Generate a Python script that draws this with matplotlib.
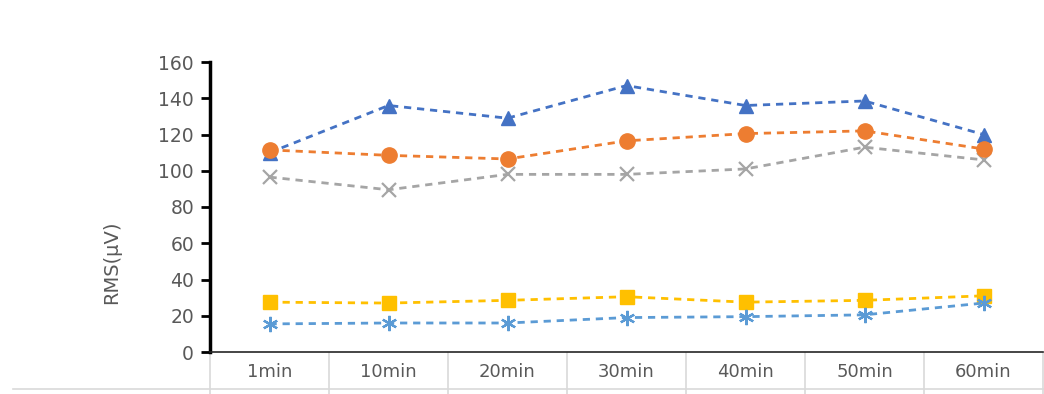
import numpy as np
import matplotlib
matplotlib.use('Agg')
import matplotlib.pyplot as plt
from matplotlib.lines import Line2D
import matplotlib.transforms as mtransforms

# data
categories = ['1min', '10min', '20min', '30min', '40min', '50min', '60min']
tri_vals = [110, 136, 129, 147, 136, 138.5, 120]
circ_vals = [111.5, 108.5, 106.5, 116.5, 120.5, 122, 112]
x_vals = [96.5, 89.5, 98, 98, 101, 113, 106]
sq_vals = [27.5, 27, 28.5, 30.5, 27.5, 28.5, 31]
star_vals = [15.5, 16, 16, 19, 19.5, 20.5, 27]

fig = plt.figure(figsize=(10.44, 3.94), dpi=100)
ax = fig.add_axes([210/1044, 42/394, 833/1044, 290/394])

xs = np.arange(len(categories))
dash = (0, (2.6, 2.1))
lw = 2.0

ax.plot(xs, sq_vals, color='#FFC000', lw=lw, ls=dash, marker='s', ms=10, zorder=3)
ax.plot(xs, star_vals, color='#5B9BD5', lw=lw, ls=dash, marker=(6, 2, 0), ms=11, mew=1.6, zorder=4)
ax.plot(xs, x_vals, color='#A5A5A5', lw=lw, ls=dash, marker='x', ms=10, mew=1.6, zorder=3)
ax.plot(xs, tri_vals, color='#4472C4', lw=lw, ls=dash, marker='^', ms=10, zorder=4)
ax.plot(xs, circ_vals, color='#ED7D31', lw=lw, ls=dash, marker='o', ms=11, zorder=5)

ax.set_xlim(-0.5, len(categories) - 0.5)
ax.set_ylim(0, 160)
ax.set_yticks(np.arange(0, 161, 20))
ax.set_xticks(xs)
ax.set_xticklabels(categories)

for s in ['top', 'right']:
    ax.spines[s].set_visible(False)
ax.spines['left'].set_linewidth(2.5)
ax.spines['left'].set_color('black')
ax.spines['bottom'].set_linewidth(1.2)
ax.spines['bottom'].set_color('#262626')

ax.tick_params(axis='y', direction='out', length=6.5, width=2, color='black',
               labelsize=13.5, labelcolor='#595959', pad=5)
ax.tick_params(axis='x', length=0, labelsize=13, labelcolor='#595959', pad=8)

# table-like category grid below the axis
trans = mtransforms.blended_transform_factory(ax.transData, ax.transAxes)
bounds = np.arange(len(categories) + 1) - 0.5
ax.vlines(bounds, -42/290, 0, transform=trans, colors='#D9D9D9', lw=1.2, clip_on=False)
fig.add_artist(Line2D([13/1044, 1043/1044], [5/394, 5/394], color='#D9D9D9', lw=1.2))

fig.text(112/1044, 1 - 262/394, 'RMS(μV)', rotation=90, ha='center', va='center',
         fontsize=14, color='#595959')

fig.savefig('out.png', dpi=100)
